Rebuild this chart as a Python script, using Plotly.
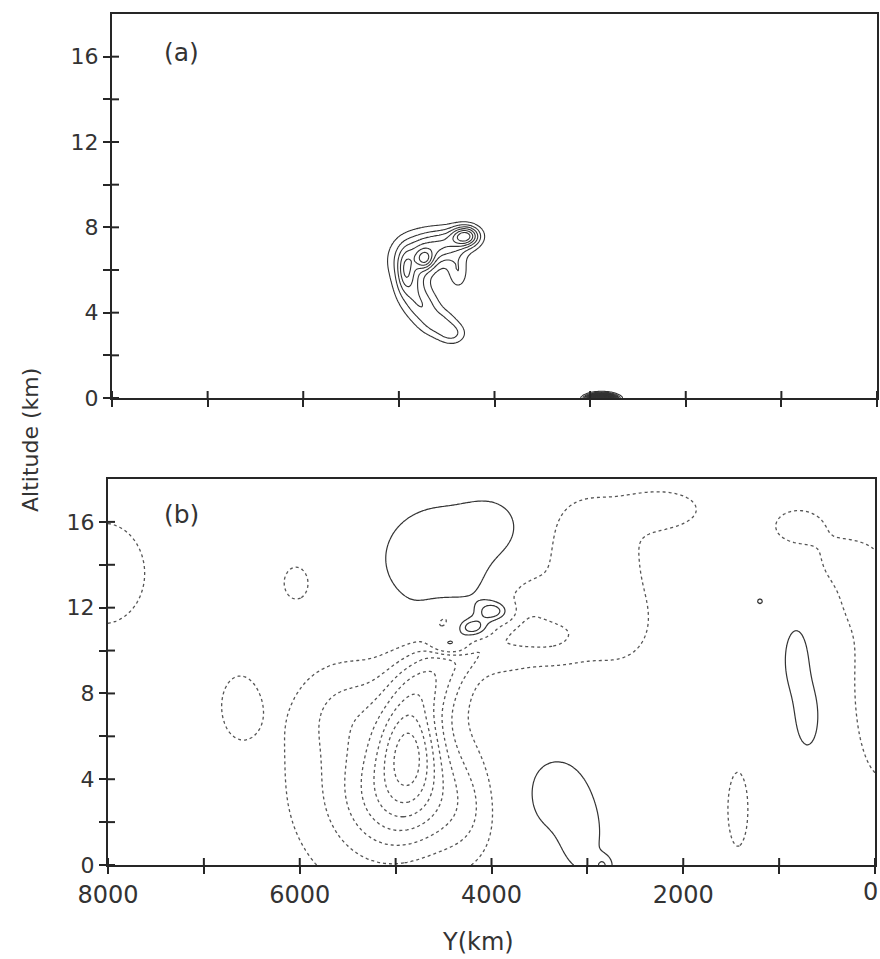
import numpy as np
import plotly.graph_objects as go

# ---------------------------------------------------------------
# Axis ticks
# ---------------------------------------------------------------
Y_TICKS_MAJOR = [8000, 6000, 4000, 2000, 0]
Y_TICK_LABELS = ["8000", "6000", "4000", "2000", ""]
Y_TICKS_ALL = [0, 1000, 2000, 3000, 4000, 5000, 6000, 7000, 8000]
Z_TICKS_MAJOR = [0, 4, 8, 12, 16]
Z_TICK_LABELS = ["0", "4", "8", "12", "16"]
Z_TICKS_ALL = [0, 2, 4, 6, 8, 10, 12, 14, 16]

# ---------------------------------------------------------------
# Panel (a): field features (centre Y km, centre z km, amplitude,
# half-widths in Y and z)
# ---------------------------------------------------------------
A_Y = [4900, 4680, 4470, 4880, 4750, 4590, 4440, 4300, 4727, 4930, 4380, 2880]
A_Z = [6.4, 7.0, 7.3, 5.2, 4.3, 3.5, 3.0, 7.6, 6.5, 6.0, 5.9, -0.05]
A_AMP = [2.5, 2.7, 2.3, 2.3, 2.3, 2.3, 1.9, 5.5, 3.2, 2.0, 1.8, 30.0]
A_SY = [150, 180, 170, 110, 120, 130, 100, 100, 65, 55, 70, 85]
A_SZ = [0.75, 0.6, 0.5, 0.65, 0.55, 0.45, 0.35, 0.33, 0.32, 0.6, 0.55, 0.14]

# ---------------------------------------------------------------
# Panel (b): field features
# ---------------------------------------------------------------
B_Y = [4850, 4950, 4650, 4420, 4200, 5250, 5500, 4250,   # main low
       4500, 3950, 4430, 4200, 3980,                    # upper lobe, lens
       3350, 3050, 2835, 820, 700, 1200,                # other highs
       3000, 2150, 2700, 3350, 3700, 3900,               # upper-right weak low
       800, 350, -80, 200,                               # right-edge low
       8050, 6034, 6640, 1430, 4500]                    # isolated lows
B_Z = [5.8, 3.3, 8.6, 9.9, 11.0, 4.0, 7.2, 2.5,
       14.0, 15.8, 10.3, 11.05, 11.8,
       3.3, 1.0, -0.05, 9.6, 6.9, 12.3,
       14.8, 16.6, 11.0, 10.5, 12.0, 10.0,
       15.8, 14.2, 8.5, 12.8,
       13.6, 13.2, 7.45, 2.6, 11.6]
B_AMP = [-4.2, -3.0, -2.4, -2.0, -1.6, -2.2, -1.0, -1.3,
         1.8, 1.2, 3.6, 4.5, 3.4,
         1.4, 1.2, 1.7, 1.7, 1.7, 1.2,
         -1.6, -1.4, -1.3, -1.5, -1.5, -1.2,
         -1.5, -1.1, -1.6, -0.8,
         -1.5, -1.3, -1.3, -1.4, -1.2]
B_SY = [220, 380, 260, 230, 200, 700, 350, 280,
        600, 220, 140, 130, 130,
        400, 150, 75, 110, 110, 40,
        520, 300, 320, 260, 230, 250,
        260, 220, 300, 200,
        480, 167, 195, 127, 150]
B_SZ = [1.8, 1.9, 1.1, 0.85, 0.7, 4.0, 1.4, 1.8,
        2.5, 0.9, 0.35, 0.35, 0.35,
        2.0, 1.2, 0.37, 1.3, 1.3, 0.18,
        2.4, 0.7, 1.5, 1.0, 1.3, 1.0,
        0.8, 0.8, 4.5, 1.2,
        2.6, 0.97, 1.46, 2.1, 0.5]

Y_GRID = np.arange(0, 8001, 20.0)
Z_GRID = np.arange(0, 18.001, 0.05)


def build_field(ys, zs, amps, sys_, szs):
    yy, zz = np.meshgrid(Y_GRID, Z_GRID)
    f = np.zeros_like(yy)
    for y0, z0, a, sy, sz in zip(ys, zs, amps, sys_, szs):
        f += a * np.exp(-0.5 * (((yy - y0) / sy) ** 2 + ((zz - z0) / sz) ** 2))
    return np.round(f, 3)


field_a = build_field(A_Y, A_Z, A_AMP, A_SY, A_SZ)
field_b = build_field(B_Y, B_Z, B_AMP, B_SY, B_SZ)

LINE = "#262626"
TEXT = "#333333"
FONT = "DejaVu Sans"

fig = go.Figure()

# panel (a): solid contours
fig.add_trace(go.Contour(
    x=Y_GRID, y=Z_GRID, z=field_a, xaxis="x", yaxis="y",
    contours=dict(start=1, end=30, size=1, coloring="none"),
    line=dict(color="#333333", width=1.1, smoothing=1),
    showscale=False, hoverinfo="skip"))

# panel (b): negative (dotted) and positive (solid) contours
fig.add_trace(go.Contour(
    x=Y_GRID, y=Z_GRID, z=field_b, xaxis="x2", yaxis="y2",
    contours=dict(start=-9, end=-1, size=1, coloring="none"),
    line=dict(color="#555555", width=1.3, dash="dot", smoothing=1),
    showscale=False, hoverinfo="skip"))
fig.add_trace(go.Contour(
    x=Y_GRID, y=Z_GRID, z=field_b, xaxis="x2", yaxis="y2",
    contours=dict(start=1, end=3, size=1, coloring="none"),
    line=dict(color="#333333", width=1.2, smoothing=1),
    showscale=False, hoverinfo="skip"))

axis_common = dict(
    showline=True, mirror=True, linecolor=LINE, linewidth=2,
    showgrid=False, zeroline=False, automargin=False,
    ticks="outside", ticklen=7, tickwidth=2, tickcolor=LINE,
    tickfont=dict(family=FONT, size=22, color=TEXT),
)

fig.update_layout(
    width=880, height=959,
    margin=dict(l=0, r=0, t=0, b=0),
    paper_bgcolor="white", plot_bgcolor="white",
    showlegend=False,
    xaxis=dict(axis_common, domain=[112 / 880, 877 / 880], range=[8000, 0],
               tickvals=Y_TICKS_ALL, showticklabels=False, anchor="y"),
    yaxis=dict(axis_common, domain=[1 - 398 / 959, 1 - 14 / 959], range=[0, 18],
               tickvals=Z_TICKS_MAJOR, ticktext=Z_TICK_LABELS,
               minor=dict(tickvals=Z_TICKS_ALL, ticks="outside", ticklen=7,
                          tickwidth=2, tickcolor=LINE),
               anchor="x"),
    xaxis2=dict(axis_common, domain=[108 / 880, 875 / 880], range=[8000, 0],
                tickvals=Y_TICKS_MAJOR, ticktext=Y_TICK_LABELS,
                tickfont=dict(family=FONT, size=24, color=TEXT),
                minor=dict(tickvals=Y_TICKS_ALL, ticks="outside", ticklen=7,
                           tickwidth=2, tickcolor=LINE),
                anchor="y2"),
    yaxis2=dict(axis_common, domain=[1 - 865 / 959, 1 - 479 / 959], range=[0, 18],
                tickvals=Z_TICKS_MAJOR, ticktext=Z_TICK_LABELS,
                minor=dict(tickvals=Z_TICKS_ALL, ticks="outside", ticklen=7,
                           tickwidth=2, tickcolor=LINE),
                anchor="x2"),
)

# inner halves of the crossing tick marks
shapes = []
for xa, ya, h in (("x", "y", 384), ("x2", "y2", 386)):
    for t in Y_TICKS_ALL:
        shapes.append(dict(type="line", xref=xa, yref=f"{ya} domain",
                           x0=t, x1=t, y0=0, y1=7 / h,
                           line=dict(color=LINE, width=2)))
    for t in Z_TICKS_ALL:
        shapes.append(dict(type="line", xref=f"{xa} domain", yref=ya,
                           x0=0, x1=7 / 766, y0=t, y1=t,
                           line=dict(color=LINE, width=2)))
fig.update_layout(shapes=shapes)

annotations = [
    dict(text="(a)", x=181 / 880, y=1 - 52 / 959, size=25, angle=0),
    dict(text="(b)", x=181 / 880, y=1 - 514 / 959, size=25, angle=0),
    # the "0" label at the right end of the Y axis, kept inside the page
    dict(text="0", x=870 / 880, y=1 - 892 / 959, size=24, angle=0),
    dict(text="Altitude (km)", x=30 / 880, y=1 - 440 / 959, size=22, angle=-90),
    dict(text="Y(km)", x=478 / 880, y=1 - 942 / 959, size=24, angle=0),
]
fig.update_layout(annotations=[
    dict(text=a["text"], x=a["x"], y=a["y"], xref="paper", yref="paper",
         xanchor="center", yanchor="middle", showarrow=False,
         textangle=a["angle"],
         font=dict(family=FONT, size=a["size"], color=TEXT))
    for a in annotations
])

fig.write_html("out.html")
